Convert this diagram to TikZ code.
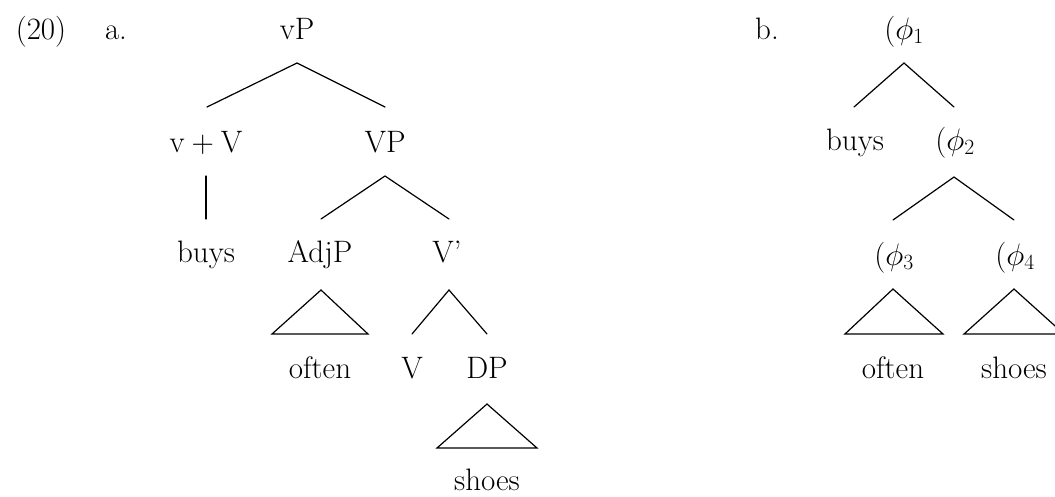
\documentclass[tikz,border=0pt]{standalone}
\usepackage{fix-cm}
\begin{document}
\begin{tikzpicture}[x=1pt,y=-1pt,
  lbl/.style={anchor=base,inner sep=0pt,font=\fontsize{31}{36}\selectfont},
  branch/.style={line width=1.2pt,line cap=round,line join=miter}]
\useasboundingbox (0,0) rectangle (1055,496);

% ---- example number and labels
\node[lbl] (num) at (41,39) {(20)};
\node[lbl] (la) at (116,39) {a.};
\node[lbl] (lb) at (767,39) {b.};

% ---- tree (a): syntactic structure
\node[lbl] (vP)    at (297,39)  {vP};
\node[lbl] (vV)    at (206,152) {v${}+{}$V};
\node[lbl] (VP)    at (385,152) {VP};
\node[lbl] (buysA) at (206,262) {buys};
\node[lbl] (AdjP)  at (320,262) {AdjP};
\node[lbl] (Vbar)  at (447,262) {V'};
\node[lbl] (oftenA) at (320,378) {often};
\node[lbl] (V)     at (412,378) {V};
\node[lbl] (DP)    at (487,378) {DP};
\node[lbl] (shoesA) at (487,490) {shoes};

\coordinate (vP-t) at (297,63);
\coordinate (vV-t) at (207,107);
\coordinate (VP-t) at (385,107);
\coordinate (vV-b) at (206,176);
\coordinate (buysA-t) at (206,219);
\coordinate (VP-b) at (385,176);
\coordinate (AdjP-t) at (321,219);
\coordinate (Vbar-t) at (449,219);
\coordinate (AdjP-b) at (321,290);
\coordinate (oftenA-l) at (272,334);
\coordinate (oftenA-r) at (368,334);
\coordinate (Vbar-b) at (449,290);
\coordinate (V-t) at (412,334);
\coordinate (DP-t) at (487,334);
\coordinate (DP-b) at (487,404);
\coordinate (shoesA-l) at (437,448);
\coordinate (shoesA-r) at (537,448);

\draw[branch] (vV-t) -- (vP-t) -- (VP-t);
\draw[branch] (vV-b) -- (buysA-t);
\draw[branch] (AdjP-t) -- (VP-b) -- (Vbar-t);
\draw[branch] (oftenA-l) -- (AdjP-b) -- (oftenA-r) -- cycle;
\draw[branch] (V-t) -- (Vbar-b) -- (DP-t);
\draw[branch] (shoesA-l) -- (DP-b) -- (shoesA-r) -- cycle;

% ---- tree (b): prosodic phrasing
\node[lbl] (p1)     at (904,39)  {($\phi_1$};
\node[lbl] (buysB)  at (855,150) {buys};
\node[lbl] (p2)     at (955,150) {($\phi_2$};
\node[lbl] (p3)     at (894,265) {($\phi_3$};
\node[lbl] (p4)     at (1015,265) {($\phi_4$};
\node[lbl] (oftenB) at (893,378) {often};
\node[lbl] (shoesB) at (1014,378) {shoes};

\coordinate (p1-b) at (904,63);
\coordinate (buysB-t) at (854,107);
\coordinate (p2-t) at (954,107);
\coordinate (p2-b) at (954,177);
\coordinate (p3-t) at (893,220);
\coordinate (p4-t) at (1014,220);
\coordinate (p3-b) at (893,289);
\coordinate (oftenB-l) at (845,334);
\coordinate (oftenB-r) at (943,334);
\coordinate (p4-b) at (1014,289);
\coordinate (shoesB-l) at (964,334);
\coordinate (shoesB-r) at (1064,334);

\draw[branch] (buysB-t) -- (p1-b) -- (p2-t);
\draw[branch] (p3-t) -- (p2-b) -- (p4-t);
\draw[branch] (oftenB-l) -- (p3-b) -- (oftenB-r) -- cycle;
\draw[branch] (shoesB-l) -- (p4-b) -- (shoesB-r) -- cycle;
\end{tikzpicture}
\end{document}
